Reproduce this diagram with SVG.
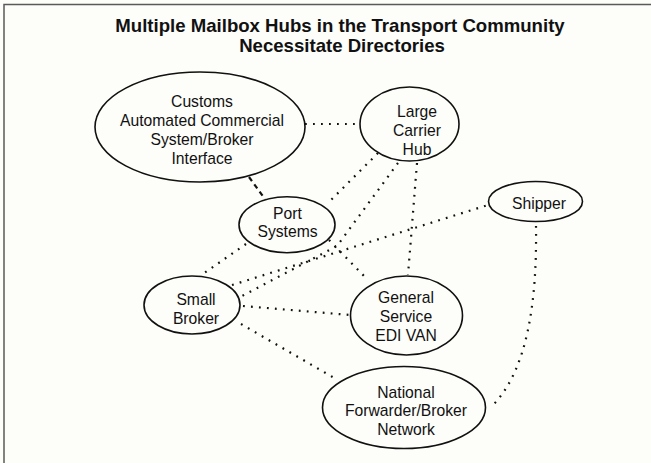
<svg xmlns="http://www.w3.org/2000/svg" width="651" height="463" viewBox="0 0 651 463">
<style>
.bg{fill:#fdfdf9}
.frame{stroke:#5a5a5a;stroke-width:1.5;fill:none}
.node ellipse{fill:none;stroke:#111;stroke-width:1.6}
.node text{font-family:"Liberation Sans",Arial,Helvetica,sans-serif;font-size:15.7px;fill:#111;text-anchor:middle}
.title{font-family:"Liberation Sans",Arial,Helvetica,sans-serif;font-size:18.6px;font-weight:bold;fill:#111;text-anchor:middle}
.dot{fill:none;stroke:#111;stroke-width:2.2;stroke-dasharray:1.8 6.2}
.dash{fill:none;stroke:#111;stroke-width:2.2;stroke-dasharray:5 4}
</style>
<rect class="bg" x="0" y="0" width="651" height="463"/>
<path class="frame" d="M4,463 V4.5 H651"/>
<g id="title">
<text class="title" x="340" y="32">Multiple Mailbox Hubs in the Transport Community</text>
<text class="title" x="342" y="52">Necessitate Directories</text>
</g>
<g id="connectors">
<path class="dot" d="M305,124 L359,124"/>
<path class="dash" d="M249,177 L265,199"/>
<path class="dot" d="M378,153 L331,200"/>
<path class="dot" d="M398,163 L337,246 L242,296"/>
<path class="dot" d="M329,240 L367,279"/>
<path class="dot" d="M417,163 L408,275"/>
<path class="dot" d="M246,244 L200,276"/>
<path class="dot" d="M232,285 L488,205"/>
<path class="dot" d="M243,306 L350,315"/>
<path class="dot" d="M241,324 L336,379"/>
<path class="dot" d="M536,226 C537,300 528,370 492,406"/>
</g>
<g id="customs" class="node">
<ellipse cx="200" cy="127" rx="105" ry="55"/>
<text x="202" y="107">Customs</text>
<text x="202" y="126">Automated Commercial</text>
<text x="202" y="145">System/Broker</text>
<text x="202" y="164">Interface</text>
</g>
<g id="large-carrier-hub" class="node">
<ellipse cx="409.5" cy="124" rx="49.5" ry="37"/>
<text x="417" y="117">Large</text>
<text x="417" y="135.5">Carrier</text>
<text x="417" y="154.5">Hub</text>
</g>
<g id="port-systems" class="node">
<ellipse cx="287" cy="224.7" rx="48" ry="28"/>
<text x="287.5" y="219">Port</text>
<text x="287.5" y="237">Systems</text>
</g>
<g id="shipper" class="node">
<ellipse cx="535.5" cy="201.5" rx="47" ry="20"/>
<text x="539" y="209">Shipper</text>
</g>
<g id="small-broker" class="node">
<ellipse cx="192" cy="305" rx="48" ry="29"/>
<text x="196" y="305">Small</text>
<text x="196" y="324">Broker</text>
</g>
<g id="general-service" class="node">
<ellipse cx="406.5" cy="315.5" rx="56" ry="39.5"/>
<text x="406" y="303">General</text>
<text x="406" y="322">Service</text>
<text x="406" y="341">EDI VAN</text>
</g>
<g id="national-network" class="node">
<ellipse cx="404" cy="407.5" rx="81.5" ry="41"/>
<text x="406" y="397.5">National</text>
<text x="406" y="416">Forwarder/Broker</text>
<text x="406" y="435">Network</text>
</g>
</svg>
